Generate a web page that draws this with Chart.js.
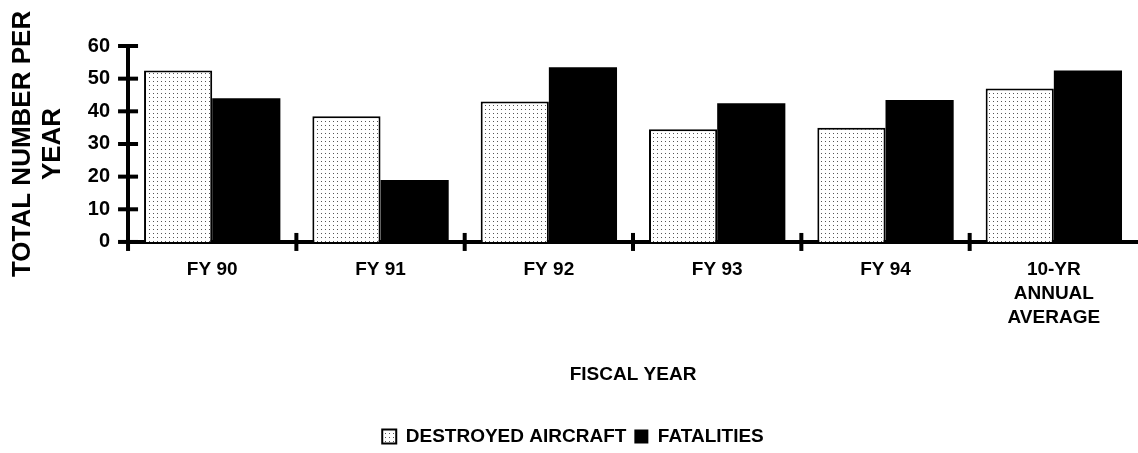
<!DOCTYPE html>
<html>
<head>
<meta charset="utf-8">
<script src="https://cdn.jsdelivr.net/npm/chart.js@4/dist/chart.umd.min.js"></script>
<style>
    html, body { margin: 0; padding: 0; background: #fff; overflow: hidden; }
    #wrap { width: 1138px; height: 456px; position: relative; }
</style>
</head>
<body>
<div id="wrap"><canvas id="chart"></canvas></div>
<script>
// data
const categories = [['FY 90'], ['FY 91'], ['FY 92'], ['FY 93'], ['FY 94'], ['10-YR', 'ANNUAL', 'AVERAGE']];
const destroyedAircraft = [52.5, 38.5, 43, 34.5, 35, 47];
const fatalities = [44, 19, 53.5, 42.5, 43.5, 52.5];
const yTicks = [0, 10, 20, 30, 40, 50, 60];

const FONT = '"Liberation Sans", Arial, Helvetica, sans-serif';

// light dotted fill like the printed screen
function dotPattern() {
    const c = document.createElement('canvas');
    c.width = 4; c.height = 4;
    const g = c.getContext('2d');
    g.fillStyle = '#fff';
    g.fillRect(0, 0, 4, 4);
    g.fillStyle = '#555';
    g.fillRect(1, 1, 1, 1);
    return g.createPattern(c, 'repeat');
}
const dots = dotPattern();

// crossing tick marks on both axes
const crossTicks = {
    id: 'crossTicks',
    afterDraw(chart) {
        const { ctx, scales: { x, y } } = chart;
        ctx.save();
        ctx.strokeStyle = '#000';
        ctx.lineWidth = 4;
        const ax = x.left;
        yTicks.forEach(v => {
            const py = y.getPixelForValue(v);
            ctx.beginPath();
            ctx.moveTo(ax - 10, py);
            ctx.lineTo(ax + 10, py);
            ctx.stroke();
        });
        // extend y axis a touch below zero
        ctx.beginPath();
        ctx.moveTo(ax, y.bottom);
        ctx.lineTo(ax, y.bottom + 9);
        ctx.stroke();
        for (let i = 1; i < categories.length; i++) {
            const px = (x.getPixelForValue(i - 1) + x.getPixelForValue(i)) / 2;
            ctx.beginPath();
            ctx.moveTo(px, y.bottom - 9);
            ctx.lineTo(px, y.bottom + 9);
            ctx.stroke();
        }
        ctx.restore();
    }
};

new Chart(document.getElementById('chart'), {
    type: 'bar',
    data: {
        labels: categories,
        datasets: [{
            label: 'DESTROYED AIRCRAFT',
            data: destroyedAircraft,
            backgroundColor: dots,
            borderColor: '#000',
            borderWidth: 2
        }, {
            label: 'FATALITIES',
            data: fatalities,
            backgroundColor: '#000',
            borderColor: '#000',
            borderWidth: 0
        }]
    },
    options: {
        responsive: true,
        maintainAspectRatio: false,
        animation: false,
        layout: { padding: { top: 46, right: 0, left: 8, bottom: 0 } },
        datasets: { bar: { categoryPercentage: 0.81, barPercentage: 1 } },
        plugins: {
            tooltip: { enabled: false },
            legend: {
                position: 'bottom',
                labels: {
                    color: '#000',
                    font: { family: FONT, size: 19, weight: 'bold' },
                    boxWidth: 14,
                    boxHeight: 14,
                    padding: 8
                }
            }
        },
        scales: {
            x: {
                grid: { display: false },
                border: { color: '#000', width: 4 },
                ticks: {
                    color: '#000',
                    padding: 8,
                    maxRotation: 0,
                    font: { family: FONT, size: 19, weight: 'bold', lineHeight: 1.25 }
                },
                title: {
                    display: true,
                    text: 'FISCAL YEAR',
                    color: '#000',
                    font: { family: FONT, size: 19, weight: 'bold' },
                    padding: { top: 26, bottom: 33 }
                }
            },
            y: {
                min: 0,
                max: 60,
                grid: { display: false },
                border: { color: '#000', width: 4 },
                afterBuildTicks: s => { s.ticks = yTicks.map(v => ({ value: v })); },
                ticks: {
                    color: '#000',
                    padding: 10,
                    font: { family: FONT, size: 20, weight: 'bold' }
                },
                title: {
                    display: true,
                    text: ['TOTAL NUMBER PER', 'YEAR'],
                    color: '#000',
                    font: { family: FONT, size: 26, weight: 'bold', lineHeight: 1.15 },
                    padding: { top: 0, bottom: 10 }
                }
            }
        }
    },
    plugins: [crossTicks]
});
</script>
</body>
</html>
